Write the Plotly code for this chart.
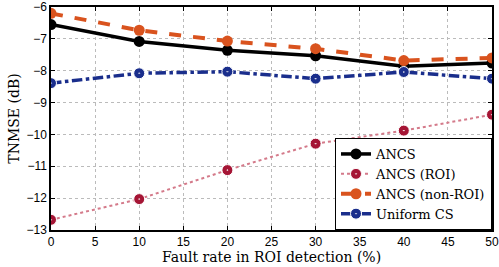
import plotly.graph_objects as go

x = [0, 10, 20, 30, 40, 50]
ancs = [-6.55, -7.08, -7.36, -7.53, -7.86, -7.76]
ancs_roi = [-12.68, -12.03, -11.12, -10.29, -9.88, -9.38]
ancs_nonroi = [-6.2, -6.73, -7.07, -7.31, -7.68, -7.6]
uniform = [-8.39, -8.08, -8.03, -8.25, -8.04, -8.25]

xticks = [0, 5, 10, 15, 20, 25, 30, 35, 40, 45, 50]
yticks = [-13, -12, -11, -10, -9, -8, -7, -6]

serif = "DejaVu Serif"
sans = "Liberation Sans"

fig = go.Figure()
series = [
    ("ANCS", ancs, "black", "solid", 3.5, False),
    ("ANCS (ROI)", ancs_roi, "#a51535", "dot", 2, True),
    ("ANCS (non-ROI)", ancs_nonroi, "#d9531e", "dash", 4, False),
    ("Uniform CS", uniform, "#1a2e8c", "dashdot", 3.5, True),
]
for name, y, col, dash, w, dot in series:
    lc = "#d47a8a" if name == "ANCS (ROI)" else col
    fig.add_trace(go.Scatter(
        x=x, y=y, name=name, mode="lines+markers", legendgroup=name,
        line=dict(color=lc, dash=dash, width=w),
        marker=dict(symbol="circle-dot" if dot else "circle", size=11, color=col,
                    line=dict(color="white" if dot else col, width=1 if dot else 0)),
    ))

fig.update_layout(
    width=499, height=267,
    margin=dict(l=51, r=7, t=7, b=37),
    paper_bgcolor="white", plot_bgcolor="white",
    showlegend=True,
    legend=dict(x=1, y=0, xanchor="right", yanchor="bottom",
                bgcolor="white", bordercolor="black", borderwidth=1,
                font=dict(family=serif, size=13, color="black"),
                tracegroupgap=0, itemwidth=30,
                ),
)
fig.update_xaxes(
    range=[0, 50], tickvals=xticks, ticks="inside", ticklen=4, tickcolor="black",
    showline=True, linecolor="black", linewidth=1.5, mirror="ticks",
    showgrid=True, gridcolor="#bbbbbb", griddash="dot", gridwidth=1,
    zeroline=False, automargin=False,
    tickfont=dict(family=sans, size=12, color="black"),
    title=dict(text="Fault rate in ROI detection (%)", font=dict(family=serif, size=14, color="black"), standoff=0),
)
fig.update_yaxes(
    range=[-13, -6], tickvals=yticks, ticktext=[f"\u2212{abs(v)}" for v in yticks],
    ticks="inside", ticklen=4, tickcolor="black",
    showline=True, linecolor="black", linewidth=1.5, mirror="ticks",
    showgrid=True, gridcolor="#bbbbbb", griddash="dot", gridwidth=1,
    zeroline=False, automargin=False,
    tickfont=dict(family=sans, size=12, color="black"),
    title=dict(text="TNMSE (dB)", font=dict(family=serif, size=14, color="black"), standoff=4),
)
fig.write_html("out.html", config={"displayModeBar": False},
               post_script="document.body.style.margin='0';document.body.style.padding='0';")
